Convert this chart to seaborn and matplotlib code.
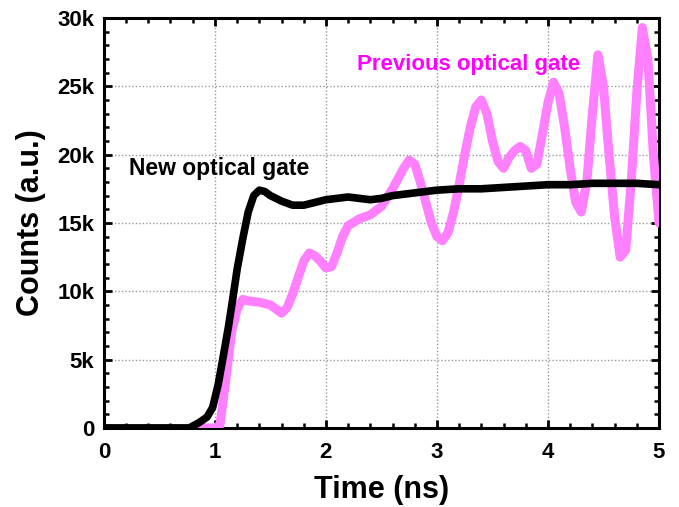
import matplotlib
matplotlib.use("Agg")
import matplotlib.pyplot as plt
from matplotlib.ticker import MultipleLocator, FuncFormatter
import seaborn as sns
import pandas as pd

# Time (ns) and counts for the new optical gate
new_time = [0.0, 0.70, 0.77, 0.86, 0.93, 0.98, 1.03, 1.07, 1.12, 1.16, 1.20,
            1.25, 1.30, 1.35, 1.40, 1.45, 1.50, 1.60, 1.70, 1.80, 1.90, 2.00,
            2.10, 2.20, 2.30, 2.40, 2.50, 2.60, 2.70, 2.80, 2.90, 3.00, 3.20,
            3.40, 3.60, 3.80, 4.00, 4.20, 4.40, 4.60, 4.80, 5.00]
new_counts = [0, 0, 0, 400, 800, 1500, 3200, 5000, 7300, 9400, 11600,
              13800, 15800, 17000, 17400, 17300, 17000, 16600, 16300, 16300, 16500, 16700,
              16800, 16900, 16800, 16700, 16800, 17000, 17100, 17200, 17300, 17400, 17500,
              17500, 17600, 17700, 17800, 17800, 17900, 17900, 17900, 17800]

# Time (ns) and counts for the previous optical gate
prev_time = [0.85, 1.00, 1.045, 1.09, 1.12, 1.15, 1.20, 1.25, 1.30, 1.40, 1.50,
             1.60, 1.65, 1.70, 1.75, 1.80, 1.85, 1.90, 1.95, 2.00, 2.05, 2.10,
             2.15, 2.20, 2.30, 2.40, 2.50, 2.60, 2.70, 2.75, 2.80, 2.85, 2.90,
             2.95, 3.00, 3.05, 3.10, 3.15, 3.20, 3.25, 3.30, 3.35, 3.40, 3.45,
             3.50, 3.55, 3.60, 3.65, 3.70, 3.75, 3.80, 3.85, 3.90, 3.95, 4.00,
             4.05, 4.10, 4.15, 4.20, 4.25, 4.30, 4.35, 4.40, 4.45, 4.50, 4.55,
             4.60, 4.65, 4.70, 4.75, 4.80, 4.85, 4.90, 4.95, 5.00]
prev_counts = [0, 0, 200, 3000, 5000, 7000, 8700, 9400, 9300, 9200, 9000,
               8400, 8800, 9800, 11000, 12200, 12800, 12600, 12200, 11700, 11800, 12800,
               14000, 14800, 15300, 15600, 16200, 17500, 19000, 19600, 19300, 18000, 16500,
               15000, 14000, 13700, 14300, 15800, 17800, 20000, 22000, 23500, 24000, 23000,
               21000, 19500, 19000, 19800, 20300, 20600, 20300, 19000, 19300, 21500, 23800,
               25300, 24500, 22000, 19000, 16500, 15800, 18000, 23000, 27300, 25000, 20000,
               15500, 12500, 13000, 18000, 24500, 29300, 27000, 20000, 15000]

x_ticks = [0, 1, 2, 3, 4, 5]
y_ticks = [0, 5000, 10000, 15000, 20000, 25000, 30000]

sns.set_theme(style="ticks")
plt.rcParams["font.family"] = ["Liberation Sans", "DejaVu Sans"]
plt.rcParams["font.weight"] = "bold"
plt.rcParams["text.color"] = "black"
plt.rcParams["axes.labelcolor"] = "black"

fig = plt.figure(figsize=(6.79, 5.07), dpi=100)
ax = fig.add_axes([0.153, 0.156, 0.8175, 0.8085])

prev_df = pd.DataFrame({"t": prev_time, "c": prev_counts})
new_df = pd.DataFrame({"t": new_time, "c": new_counts})

sns.lineplot(data=prev_df, x="t", y="c", ax=ax, color="#FF80FF",
             linewidth=6.5, sort=False, estimator=None, zorder=3)
sns.lineplot(data=new_df, x="t", y="c", ax=ax, color="black",
             linewidth=5.5, sort=False, estimator=None, zorder=4)

ax.set_xlim(0, 5)
ax.set_ylim(0, 30000)
ax.set_xticks(x_ticks)
ax.set_yticks(y_ticks)
ax.xaxis.set_minor_locator(MultipleLocator(0.2))
ax.yaxis.set_minor_locator(MultipleLocator(1000))
ax.yaxis.set_major_formatter(FuncFormatter(lambda v, p: "0" if v == 0 else f"{int(v/1000)}k"))
ax.xaxis.set_major_formatter(FuncFormatter(lambda v, p: f"{int(v)}"))

ax.grid(True, which="major", color="#999999", linestyle=(0, (1, 1.5)), linewidth=1.0, zorder=0)
ax.set_axisbelow(True)

ax.tick_params(which="both", direction="in", top=True, right=True, colors="black",
               labelcolor="black")
ax.tick_params(which="major", length=6, width=2, labelsize=16)
ax.tick_params(axis="x", which="major", pad=10)
ax.tick_params(axis="y", which="major", pad=7)
ax.tick_params(which="minor", length=3.5, width=1.8)
for lab in ax.get_xticklabels() + ax.get_yticklabels():
    lab.set_fontweight("bold")
for s in ax.spines.values():
    s.set_linewidth(2.2)
    s.set_color("black")

ax.set_xlabel("Time (ns)", fontsize=22, fontweight="bold", labelpad=9, color="black")
ax.set_ylabel("Counts (a.u.)", fontsize=22, fontweight="bold", labelpad=8, color="black")

ax.text(0.23, 19000, "New optical gate", fontsize=16.5, fontweight="bold",
        color="black", va="center", ha="left")
ax.text(2.28, 26600, "Previous optical gate", fontsize=16, fontweight="bold",
        color="#FF00FF", va="center", ha="left")

fig.savefig("out.png", dpi=100)
